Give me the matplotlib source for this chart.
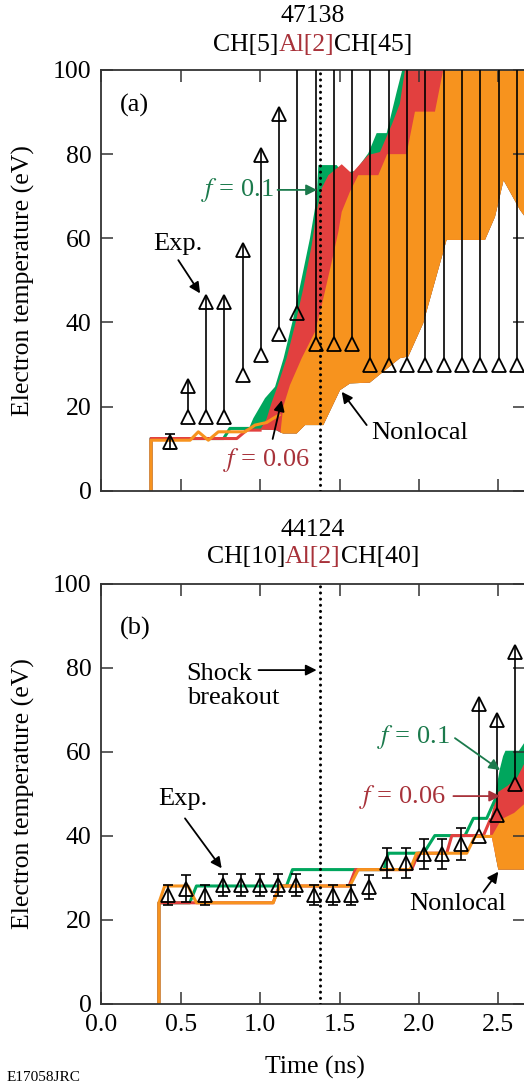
import numpy as np
import matplotlib
matplotlib.use("Agg")
import matplotlib.pyplot as plt
from matplotlib.transforms import offset_copy

plt.rcParams["font.family"] = ["Liberation Serif", "DejaVu Serif"]
plt.rcParams["mathtext.fontset"] = "stix"

# ── colours ────────────────────────────────────────────────────────────────────
GREEN, RED, ORANGE = "#00A65D", "#E2403F", "#F7931E"
GREEN_TXT, RED_TXT = "#1B7A4C", "#A8323A"

# ── panel (a): shot 47138 ──────────────────────────────────────────────────────
exp_a_t    = [0.43, 0.546, 0.662, 0.775, 0.89, 1.006, 1.12, 1.235, 1.35, 1.466,
              1.58, 1.695, 1.81, 1.926, 2.04, 2.157, 2.273, 2.387, 2.502, 2.618]
exp_a_low  = [11.6, 17.4, 17.4, 17.4, 27.4, 32.3, 37.3, 42.2, 34.8, 34.8,
              34.8, 29.9, 29.9, 29.9, 29.9, 29.9, 29.9, 29.9, 29.9, 29.9]
exp_a_err  = [1.8] + [0] * 19
# nan = no upper limit drawn, inf = above the plot range
exp_a_high = [np.nan, 24.9, 44.9, 44.9, 57.2, 79.7, 89.6] + [np.inf] * 13

green_line_a_t  = [0.313, 0.313, 0.77, 0.81, 0.93]
green_line_a_T  = [0, 12.4, 12.4, 14.8, 14.8]
red_line_a_t    = [0.313, 0.313, 0.853, 0.916, 1.00]
red_line_a_T    = [0, 12.4, 12.4, 14.4, 14.4]
orange_line_a_t = [0.313, 0.313, 0.559, 0.611, 0.674, 0.737, 0.79, 0.905, 0.968,
                   1.041, 1.083, 1.12]
orange_line_a_T = [0, 12.0, 12.0, 14.0, 12.0, 14.0, 14.0, 14.0, 15.6, 16.2, 17.2, 18.0]

green_top_a_t  = [0.93, 0.957, 1.031, 1.094, 1.148, 1.209, 1.262, 1.314, 1.356, 1.367,
                  1.482, 1.52, 1.60, 1.681, 1.734, 1.797, 1.860, 1.895, 2.70]
green_top_a_T  = [14.8, 17.2, 22.0, 24.7, 31.5, 41.0, 50.5, 60.0, 69.5, 77.4,
                  77.4, 75.5, 76.0, 80.2, 85.0, 85.0, 94.8, 100, 100]
red_top_a_t    = [1.00, 1.04, 1.073, 1.105, 1.167, 1.220, 1.272, 1.325, 1.356, 1.388,
                  1.430, 1.514, 1.577, 1.681, 1.755, 1.829, 1.88, 1.912, 2.70]
red_top_a_T    = [14.4, 17.0, 21.0, 24.3, 31.5, 39.4, 48.1, 58.4, 66.3, 71.9,
                  75.0, 77.6, 75.4, 79.8, 80.5, 87.0, 92.0, 100, 100]
orange_top_a_t = [1.13, 1.146, 1.188, 1.262, 1.346, 1.398, 1.451, 1.493, 1.514, 1.566,
                  1.618, 1.744, 1.80, 1.922, 1.975, 2.101, 2.153, 2.70]
orange_top_a_T = [14.5, 20.0, 25.1, 31.5, 37.8, 45.7, 54.4, 61.6, 66.3, 71.1,
                  75.0, 75.0, 80.0, 80.0, 90.1, 90.1, 100, 100]
bottom_a_t = [0.93, 1.10, 1.13, 1.146, 1.230, 1.283, 1.398, 1.503, 1.566, 1.691,
              1.880, 1.933, 2.027, 2.174, 2.416, 2.479, 2.533, 2.637, 2.70]
bottom_a_T = [14.6, 14.4, 13.8, 13.6, 13.6, 15.6, 15.6, 23.9, 25.5, 25.7,
              31.5, 31.9, 39.8, 59.6, 59.6, 65.1, 73.8, 66.7, 63.5]

# ── panel (b): shot 44124 ──────────────────────────────────────────────────────
exp_b_t    = [0.420, 0.536, 0.651, 0.767, 0.882, 0.998, 1.113, 1.225, 1.340, 1.456,
              1.571, 1.687, 1.800, 1.916, 2.031, 2.147, 2.263, 2.378, 2.494, 2.603]
exp_b_low  = [25.9, 27.5, 25.9, 28.3, 28.3, 28.3, 28.3, 28.3, 25.9, 25.9,
              25.9, 27.9, 33.6, 33.6, 35.8, 35.8, 38.1, 39.9, 45.0, 52.5]
exp_b_err  = [2.4, 3.2, 2.4, 2.6, 2.6, 2.6, 2.6, 2.6, 2.4, 2.4,
              2.4, 2.8, 3.6, 3.6, 3.6, 3.6, 3.7, 0, 0, 0]
exp_b_high = [np.nan] * 17 + [71.5, 67.7, 83.7]

green_line_b_t  = [0.363, 0.363, 0.557, 0.599, 1.166, 1.204, 1.78, 1.807, 2.03, 2.10,
                   2.29, 2.343, 2.427, 2.479]
green_line_b_T  = [0, 24.1, 24.1, 28.1, 28.1, 32.0, 32.0, 35.9, 35.9, 40.1,
                   40.1, 44.2, 44.2, 48.6]
red_line_b_t    = [0.363, 0.363, 1.082, 1.12, 1.56, 1.60, 1.954, 1.997, 2.175, 2.207,
                   2.406, 2.448]
red_line_b_T    = [0, 24.1, 24.1, 28.1, 28.1, 32.0, 32.0, 35.9, 35.9, 40.1, 40.1, 43.8]
orange_line_b_t = [0.363, 0.363, 0.399, 0.546, 0.599, 1.082, 1.124, 1.565, 1.618,
                   1.944, 1.986, 2.301, 2.353, 2.458]
orange_line_b_T = [0, 24.1, 28.1, 28.1, 24.1, 24.1, 28.1, 28.1, 32.0, 32.0, 35.9,
                   35.9, 39.9, 39.9]

green_top_b_t  = [2.479, 2.49, 2.51, 2.53, 2.545, 2.63, 2.66, 2.70]
green_top_b_T  = [48.6, 52.0, 56.0, 59.0, 60.3, 60.3, 62.0, 64.0]
red_top_b_t    = [2.448, 2.48, 2.50, 2.56, 2.62, 2.66, 2.70]
red_top_b_T    = [43.8, 48.5, 50.5, 52.0, 54.0, 57.0, 59.0]
orange_top_b_t = [2.458, 2.49, 2.52, 2.60, 2.66, 2.70]
orange_top_b_T = [39.9, 42.0, 44.0, 45.5, 47.5, 48.0]
bottom_b_t = [2.44, 2.458, 2.50, 2.70]
bottom_b_T = [39.9, 39.9, 32.0, 32.0]

SHOCK_BREAKOUT = 1.375
XTICKS = [0.0, 0.5, 1.0, 1.5, 2.0, 2.5]
YTICKS = [0, 20, 40, 60, 80, 100]

# ── figure geometry (pixels of the 524x1085 output) ───────────────────────────
W, H = 524, 1085
LEFT, RIGHT = 101.3, 525.0
fig = plt.figure(figsize=(W / 100, H / 100), dpi=100)
ax_a = fig.add_axes([LEFT / W, 1 - 490.7 / H, (RIGHT - LEFT) / W, 420.7 / H])
ax_b = fig.add_axes([LEFT / W, 1 - 1004.0 / H, (RIGHT - LEFT) / W, 420.0 / H])

ARROW = dict(arrowstyle="-|>", lw=1.3, mutation_scale=16, shrinkA=0, shrinkB=0)


def band(ax, top_t, top_T, bot_t, bot_T, color):
    t0 = top_t[0]
    bt = [t for t in bot_t if t > t0][::-1]
    bT = [T for t, T in zip(bot_t, bot_T) if t > t0][::-1]
    xs = list(top_t) + bt + [t0]
    ys = list(top_T) + bT + [float(np.interp(t0, bot_t, bot_T))]
    ax.fill(xs, ys, color=color, lw=0, zorder=1)


def experiment(ax, t, low, err, high):
    t, low, err, high = map(np.asarray, (t, low, err, high))
    apex = offset_copy(ax.transData, fig=fig, y=7, units="dots")
    has = ~np.isnan(high)
    top = np.where(np.isinf(high), 130, high)
    ax.vlines(t[has], low[has], top[has], color="black", lw=1.2, zorder=4,
              transform=apex)
    fin = np.isfinite(high)
    ax.plot(t[fin], high[fin], ls="none", marker="^", ms=10, mfc="none",
            mec="black", mew=1.3, zorder=5)
    eb = err > 0
    ax.errorbar(t[eb], low[eb], yerr=err[eb], fmt="none", ecolor="black",
                elinewidth=1.2, capsize=3.5, capthick=1.2, zorder=4)
    ax.plot(t, low, ls="none", marker="^", ms=10, mfc="none", mec="black",
            mew=1.3, zorder=5)


def style(ax):
    ax.set_xlim(0, 2.668)
    ax.set_ylim(0, 100)
    ax.set_xticks(XTICKS)
    ax.set_yticks(YTICKS)
    ax.tick_params(direction="in", length=8.5, width=1.1, top=True, right=True,
                   labelsize=18.5, pad=7, color="#333333")
    for s in ax.spines.values():
        s.set_linewidth(1.3)
        s.set_color("#333333")
    ax.axvline(SHOCK_BREAKOUT, color="black", lw=2.2, ls=(0, (0.01, 2.0)),
               dash_capstyle="round", zorder=3)
    ax.set_ylabel("Electron temperature (eV)", fontsize=18.5)
    ax.yaxis.set_label_coords((35 - LEFT) / (RIGHT - LEFT), 0.5)


def arrow(ax, tip, tail, color="black"):
    ax.annotate("", xy=tip, xytext=tail, arrowprops=dict(ARROW, color=color),
                zorder=6)


def label(ax, x, y, text, color="black", ha="center"):
    ax.text(x, y, text, fontsize=19, color=color, ha=ha, va="center",
            linespacing=1.1, zorder=6)


# ── panel (a) ──────────────────────────────────────────────────────────────────
band(ax_a, green_top_a_t, green_top_a_T, bottom_a_t, bottom_a_T, GREEN)
band(ax_a, red_top_a_t, red_top_a_T, bottom_a_t, bottom_a_T, RED)
band(ax_a, orange_top_a_t, orange_top_a_T, bottom_a_t, bottom_a_T, ORANGE)
ax_a.plot(green_line_a_t, green_line_a_T, color=GREEN, lw=2.2, zorder=2)
ax_a.plot(red_line_a_t, red_line_a_T, color=RED, lw=2.2, zorder=2)
ax_a.plot(orange_line_a_t, orange_line_a_T, color=ORANGE, lw=2.2, zorder=2)
experiment(ax_a, exp_a_t, exp_a_low, exp_a_err, exp_a_high)
style(ax_a)
ax_a.set_xticklabels([])
ax_a.text(0.045, 0.915, "(a)", transform=ax_a.transAxes, fontsize=19, va="center")

arrow(ax_a, (0.622, 46.9), (0.485, 54.8))
label(ax_a, 0.483, 58.6, "Exp.")
arrow(ax_a, (1.358, 71.5), (1.11, 71.5), GREEN_TXT)
label(ax_a, 0.855, 71.5, "$f$ = 0.1", GREEN_TXT)
arrow(ax_a, (1.136, 21.5), (1.079, 12.3))
label(ax_a, 1.037, 7.3, "$f$ = 0.06", RED_TXT)
arrow(ax_a, (1.514, 23.5), (1.671, 15.6))
label(ax_a, 2.007, 13.7, "Nonlocal")

# ── panel (b) ──────────────────────────────────────────────────────────────────
band(ax_b, green_top_b_t, green_top_b_T, bottom_b_t, bottom_b_T, GREEN)
band(ax_b, red_top_b_t, red_top_b_T, bottom_b_t, bottom_b_T, RED)
band(ax_b, orange_top_b_t, orange_top_b_T, bottom_b_t, bottom_b_T, ORANGE)
ax_b.plot(green_line_b_t, green_line_b_T, color=GREEN, lw=2.2, zorder=2)
ax_b.plot(red_line_b_t, red_line_b_T, color=RED, lw=2.2, zorder=2)
ax_b.plot(orange_line_b_t, orange_line_b_T, color=ORANGE, lw=2.2, zorder=2)
experiment(ax_b, exp_b_t, exp_b_low, exp_b_err, exp_b_high)
style(ax_b)
ax_b.set_xticklabels([f"{v:.1f}" for v in XTICKS])
ax_b.set_xlabel("Time (ns)", fontsize=18.5)
ax_b.xaxis.set_label_coords((315 - LEFT) / (RIGHT - LEFT), -0.124)
ax_b.text(0.045, 0.895, "(b)", transform=ax_b.transAxes, fontsize=19, va="center")

arrow(ax_b, (1.356, 79.5), (0.99, 79.5))
label(ax_b, 0.537, 75.7, "Shock\nbreakout", ha="left")
arrow(ax_b, (0.758, 32.3), (0.527, 44.2))
label(ax_b, 0.511, 48.8, "Exp.")
arrow(ax_b, (2.511, 55.7), (2.227, 63.3), GREEN_TXT)
label(ax_b, 1.963, 63.6, "$f$ = 0.1", GREEN_TXT)
arrow(ax_b, (2.511, 49.5), (2.217, 49.5), RED_TXT)
label(ax_b, 1.897, 49.3, "$f$ = 0.06", RED_TXT)
arrow(ax_b, (2.5, 31.5), (2.406, 26.7))
label(ax_b, 2.247, 23.8, "Nonlocal")


# ── titles with coloured middle layer ─────────────────────────────────────────
def title(y_px, parts, center_px=313):
    renderer = fig.canvas.get_renderer()
    texts = [fig.text(0, 1 - y_px / H, s, color=c, fontsize=18.5, va="center")
             for s, c in parts]
    widths = [t.get_window_extent(renderer).width for t in texts]
    x = center_px - sum(widths) / 2
    for t, w in zip(texts, widths):
        t.set_x(x / W)
        x += w


title(16, [("47138", "black")])
title(45, [("CH[5]", "black"), ("Al[2]", RED_TXT), ("CH[45]", "black")])
title(530, [("44124", "black")])
title(557, [("CH[10]", "black"), ("Al[2]", RED_TXT), ("CH[40]", "black")])

fig.text(7 / W, 1 - 1071 / H, "E17058JRC", fontsize=11, va="top")

fig.savefig("out.png", dpi=100)
